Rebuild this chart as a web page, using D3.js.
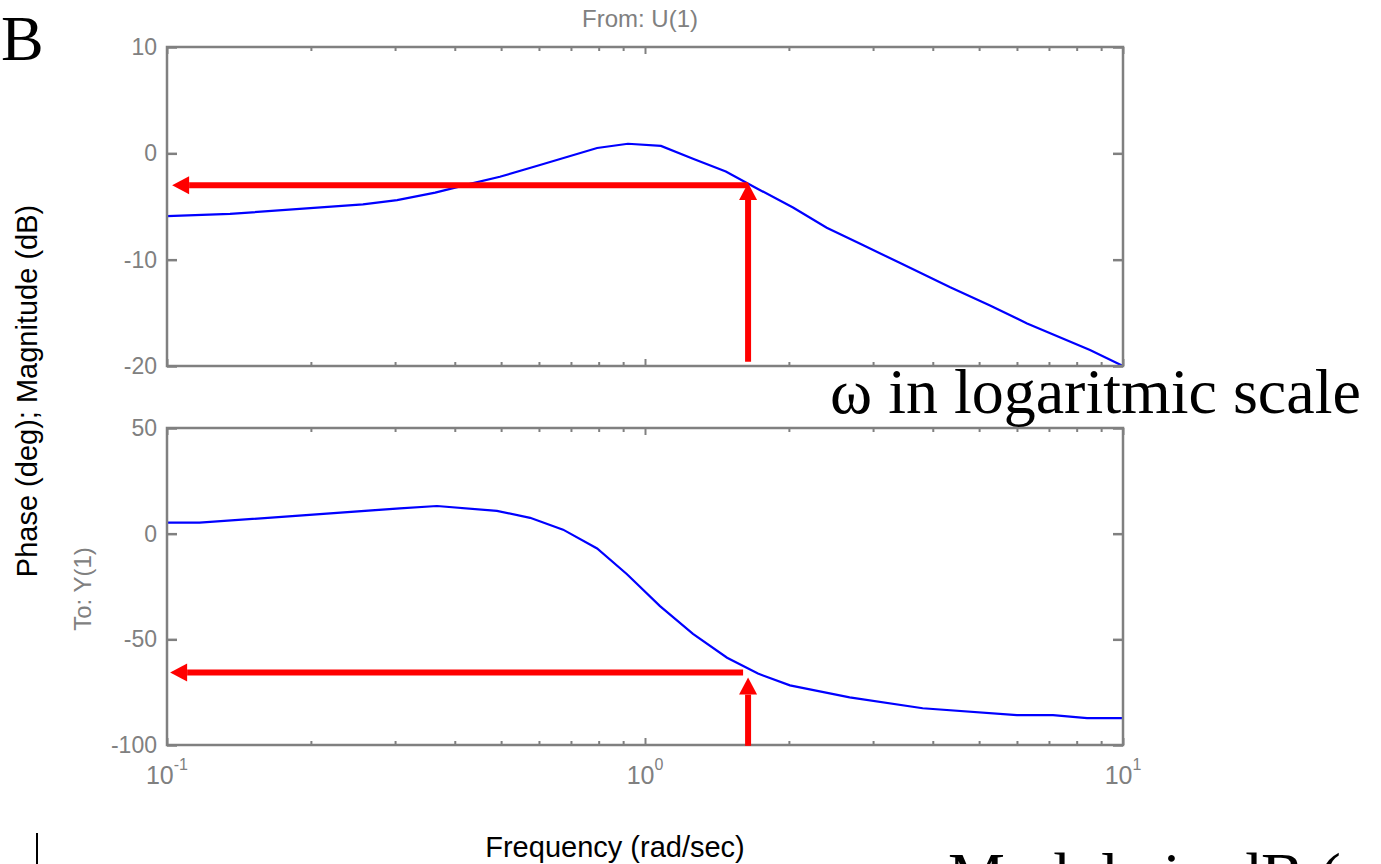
<!DOCTYPE html>
<html>
<head>
<meta charset="utf-8">
<script src="https://cdn.jsdelivr.net/npm/d3@7"></script>
<style>
  body { margin: 0; background: #fff; }
  svg { display: block; }
  .axis path, .axis line { stroke: #808080; }
  .axis text { fill: #808080; }
</style>
</head>
<body>
<svg id="chart" width="1381" height="864"></svg>
<script>
// magnitude curve (rad/sec, dB)
const magFreq = [0.1, 0.1355, 0.257, 0.303, 0.364, 0.437, 0.497, 0.603, 0.794, 0.921, 1.08, 1.26, 1.476, 1.715, 2.04, 2.40, 2.82, 3.41, 4.35, 5.27, 6.30, 8.53, 10];
const magDb = [-5.9, -5.7, -4.8, -4.4, -3.7, -2.8, -2.2, -1.1, 0.5, 0.9, 0.7, -0.5, -1.7, -3.3, -5.1, -7.0, -8.5, -10.3, -12.6, -14.3, -16.0, -18.5, -20];

// phase curve (rad/sec, deg)
const phaseFreq = [0.1, 0.117, 0.307, 0.367, 0.49, 0.575, 0.674, 0.794, 0.917, 1.075, 1.26, 1.485, 1.723, 2.01, 2.68, 3.81, 6.0, 7.14, 8.41, 10];
const phaseDeg = [5.2, 5.2, 12.0, 13.1, 10.8, 7.5, 1.9, -7.0, -19.2, -34.3, -47.4, -58.7, -66.2, -71.8, -77.5, -82.6, -85.9, -85.9, -87.3, -87.3];

// axis ticks
const xMajor = [0.1, 1, 10];
const xMajorExp = ["-1", "0", "1"];
const xMinor = [2, 3, 4, 5, 6, 7, 8, 9, 20, 30, 40, 50, 60, 70, 80, 90].map(v => v / 10);
const magTicks = [10, 0, -10, -20];
const phaseTicks = [50, 0, -50, -100];

// red arrows
const cutFreq = 1.643;
const arrowTipFreq = 0.1025;
const magLevel = -3;
const magArrowBottom = -19.6, magArrowTop = -2.8;
const phaseLevel = -65.7;
const phaseArrowRight = 1.604;
const phaseArrowBottom = -100.4, phaseArrowTop = -68.1;

const svg = d3.select("#chart");
const left = 167, right = 1123;
const x = d3.scaleLog().domain([0.1, 10]).range([left, right]);
const yMag = d3.scaleLinear().domain([10, -20]).range([47, 366]);
const yPh = d3.scaleLinear().domain([50, -100]).range([428, 745]);

svg.append("rect").attr("width", 1381).attr("height", 864).attr("fill", "#fff");

function drawPanel(y, ticks, xs, ys) {
  const top = y.range()[0], bottom = y.range()[1];
  const g = svg.append("g");

  // x minor ticks, inward on top and bottom
  g.append("g").attr("class", "axis").attr("transform", "translate(0," + bottom + ")")
    .call(d3.axisBottom(x).tickValues(xMinor).tickSize(-4).tickFormat(""))
    .call(a => a.select(".domain").remove());
  g.append("g").attr("class", "axis").attr("transform", "translate(0," + top + ")")
    .call(d3.axisTop(x).tickValues(xMinor).tickSize(-4).tickFormat(""))
    .call(a => a.select(".domain").remove());
  g.append("g").attr("class", "axis").attr("transform", "translate(0," + bottom + ")")
    .call(d3.axisBottom(x).tickValues(xMajor).tickSize(-7).tickFormat(""))
    .call(a => a.select(".domain").remove());
  g.append("g").attr("class", "axis").attr("transform", "translate(0," + top + ")")
    .call(d3.axisTop(x).tickValues(xMajor).tickSize(-7).tickFormat(""))
    .call(a => a.select(".domain").remove());
  g.selectAll(".axis line").attr("stroke-width", 2);

  // y axis left with labels, right without
  const ya = g.append("g").attr("class", "axis").attr("transform", "translate(" + left + ",0)")
    .call(d3.axisLeft(y).tickValues(ticks).tickSize(-10).tickPadding(10).tickFormat(d => String(d)));
  ya.select(".domain").remove();
  ya.selectAll("line").attr("stroke-width", 2.5);
  ya.selectAll("text").style("font-family", "Liberation Sans, Arial, sans-serif").style("font-size", "23px");
  const yr = g.append("g").attr("class", "axis").attr("transform", "translate(" + right + ",0)")
    .call(d3.axisRight(y).tickValues(ticks).tickSize(-10).tickFormat(""));
  yr.select(".domain").remove();
  yr.selectAll("line").attr("stroke-width", 2.5);

  // curve
  const line = d3.line().x(d => x(d[0])).y(d => y(d[1]));
  g.append("path").datum(d3.zip(xs, ys)).attr("d", line)
    .attr("fill", "none").attr("stroke", "#0000ff").attr("stroke-width", 2.2);

  // frame
  g.append("rect").attr("x", left).attr("y", top).attr("width", right - left).attr("height", bottom - top)
    .attr("fill", "none").attr("stroke", "#808080").attr("stroke-width", 2.5);
}

drawPanel(yMag, magTicks, magFreq, magDb);
drawPanel(yPh, phaseTicks, phaseFreq, phaseDeg);

// x tick labels 10^k
const xl = svg.append("g").style("font-family", "Liberation Sans, Arial, sans-serif").attr("fill", "#808080");
xMajor.forEach((v, i) => {
  const t = xl.append("text").attr("x", x(v)).attr("y", 784).attr("text-anchor", "middle").style("font-size", "25px");
  t.append("tspan").text("10");
  t.append("tspan").attr("dy", -14).style("font-size", "16px").text(xMajorExp[i]);
});

// arrows
function arrow(x1, y1, x2, y2) {
  const ang = Math.atan2(y2 - y1, x2 - x1);
  const len = 17, hw = 9;
  const bx = x2 - len * Math.cos(ang), by = y2 - len * Math.sin(ang);
  svg.append("line").attr("x1", x1).attr("y1", y1).attr("x2", bx).attr("y2", by)
    .attr("stroke", "#ff0000").attr("stroke-width", 6);
  const px = -Math.sin(ang) * hw, py = Math.cos(ang) * hw;
  svg.append("path")
    .attr("d", "M" + x2 + "," + y2 + "L" + (bx + px) + "," + (by + py) + "L" + (bx - px) + "," + (by - py) + "Z")
    .attr("fill", "#ff0000");
}
arrow(x(cutFreq), yMag(magLevel), x(arrowTipFreq), yMag(magLevel));
arrow(x(cutFreq), yMag(magArrowBottom), x(cutFreq), yMag(magArrowTop));
arrow(x(phaseArrowRight), yPh(phaseLevel), x(arrowTipFreq) - 2, yPh(phaseLevel));
arrow(x(cutFreq), yPh(phaseArrowBottom), x(cutFreq), yPh(phaseArrowTop));

// titles and labels
const sans = "Liberation Sans, Arial, sans-serif";
svg.append("text").attr("x", 640).attr("y", 27).attr("text-anchor", "middle")
  .style("font-family", sans).style("font-size", "24px").attr("fill", "#808080").text("From: U(1)");
svg.append("text").attr("transform", "translate(91,589) rotate(-90)").attr("text-anchor", "middle")
  .style("font-family", sans).style("font-size", "24px").attr("fill", "#808080").text("To: Y(1)");
svg.append("text").attr("transform", "translate(37,391) rotate(-90)").attr("text-anchor", "middle")
  .style("font-family", sans).style("font-size", "29px").attr("fill", "#000").text("Phase (deg); Magnitude (dB)");
svg.append("text").attr("x", 615).attr("y", 857).attr("text-anchor", "middle")
  .style("font-family", sans).style("font-size", "29px").attr("fill", "#000").text("Frequency (rad/sec)");

const serif = "Liberation Serif, Times New Roman, serif";
svg.append("text").attr("x", 1).attr("y", 60).style("font-family", serif).style("font-size", "64px").text("B");
svg.append("text").attr("x", 830).attr("y", 413).style("font-family", serif).style("font-size", "64px").text("ω in logaritmic scale");
svg.append("text").attr("x", 948).attr("y", 897).style("font-family", serif).style("font-size", "64px").text("Module in dB (");

svg.append("line").attr("x1", 37).attr("x2", 37).attr("y1", 833).attr("y2", 864)
  .attr("stroke", "#000").attr("stroke-width", 2);
</script>
</body>
</html>
